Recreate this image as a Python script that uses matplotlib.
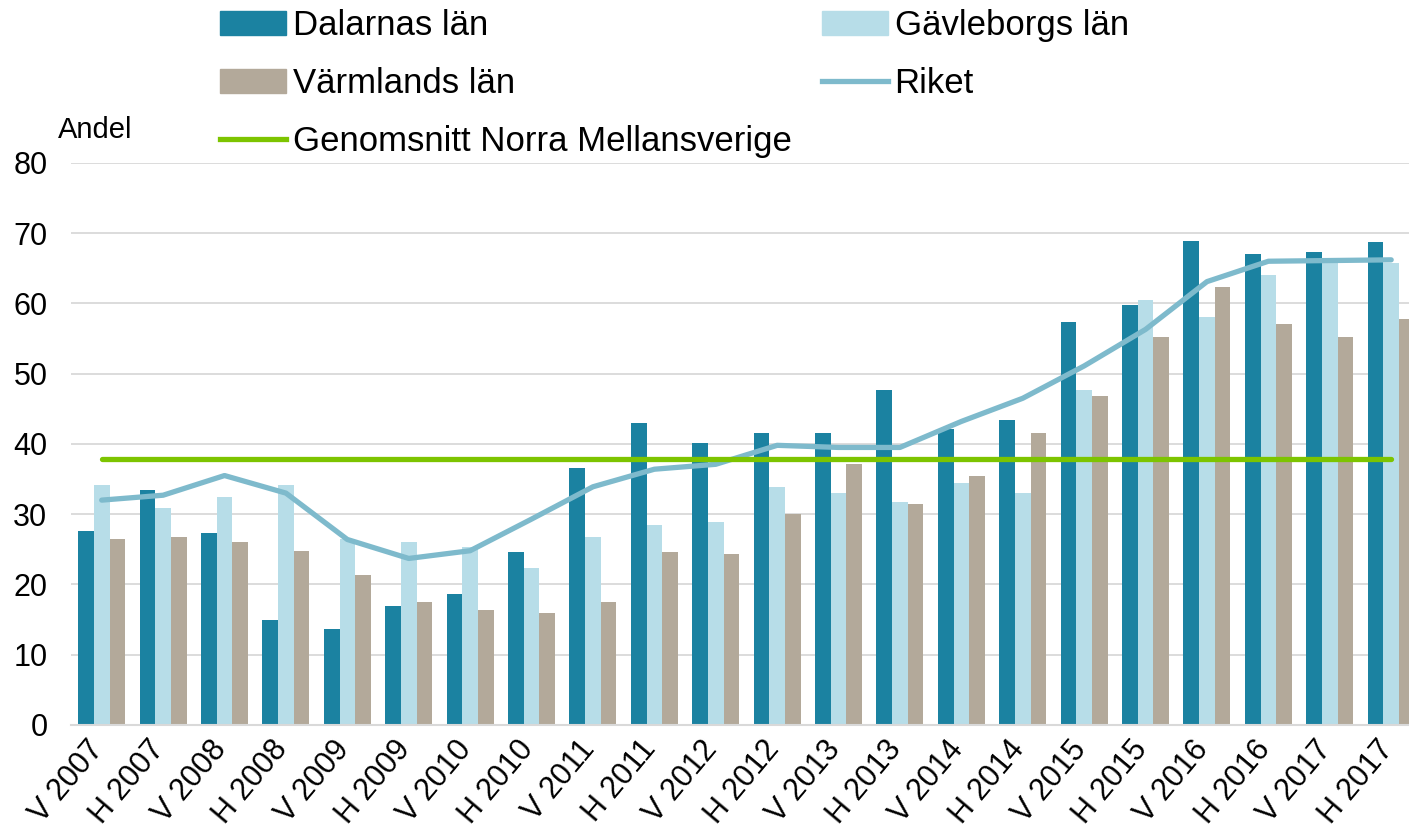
import numpy as np
import matplotlib
matplotlib.use('Agg')
import matplotlib.pyplot as plt
import matplotlib.transforms as mtransforms
from matplotlib.patches import Patch
from matplotlib.lines import Line2D

plt.rcParams['font.family'] = ['Liberation Sans', 'DejaVu Sans']

periods = ['V 2007', 'H 2007', 'V 2008', 'H 2008', 'V 2009', 'H 2009',
           'V 2010', 'H 2010', 'V 2011', 'H 2011', 'V 2012', 'H 2012',
           'V 2013', 'H 2013', 'V 2014', 'H 2014', 'V 2015', 'H 2015',
           'V 2016', 'H 2016', 'V 2017', 'H 2017']

dalarna = [27.6, 33.4, 27.3, 15.0, 13.6, 16.9, 18.7, 24.6, 36.6, 43.0, 40.2,
           41.6, 41.6, 47.7, 42.1, 43.4, 57.4, 59.8, 68.9, 67.1, 67.3, 68.7]
gavleborg = [34.1, 30.9, 32.5, 34.1, 26.4, 26.1, 25.4, 22.3, 26.8, 28.4, 28.9,
             33.8, 33.0, 31.8, 34.5, 33.0, 47.7, 60.5, 58.0, 64.1, 66.1, 65.8]
varmland = [26.4, 26.8, 26.1, 24.8, 21.4, 17.5, 16.4, 15.9, 17.5, 24.6, 24.3,
            30.0, 37.1, 31.4, 35.5, 41.6, 46.8, 55.2, 62.3, 57.1, 55.2, 57.8]
riket = [32.0, 32.7, 35.5, 33.0, 26.4, 23.7, 24.8, 29.3, 33.9, 36.4, 37.1,
         39.8, 39.5, 39.5, 43.2, 46.5, 51.1, 56.3, 63.1, 66.0, 66.1, 66.2]
genomsnitt = 37.8

c_dal = '#1B82A1'
c_gav = '#B7DDE8'
c_var = '#B3A99A'
c_rik = '#7EBACC'
c_gen = '#7DC400'

fig = plt.figure(figsize=(14.09, 8.31), dpi=100)
ax = fig.add_axes([0.0504, 0.1276, 0.9496, 0.6764])

x = np.arange(len(periods))
w = 0.255
ax.bar(x - w, dalarna, w, color=c_dal, zorder=2)
ax.bar(x, gavleborg, w, color=c_gav, zorder=2)
ax.bar(x + w, varmland, w, color=c_var, zorder=2)
ax.plot(x, riket, color=c_rik, linewidth=3.8, solid_capstyle='round', zorder=3)
ax.plot([x[0], x[-1]], [genomsnitt, genomsnitt], color=c_gen, linewidth=3.8,
        solid_capstyle='round', zorder=4)

ax.set_xlim(-0.5, 21.29)
ax.set_ylim(0, 80)
ax.set_yticks(range(0, 81, 10))
ax.yaxis.grid(True, color='#D9D9D9', linewidth=1.3)
ax.set_axisbelow(True)
for s in ['top', 'right', 'left']:
    ax.spines[s].set_visible(False)
ax.spines['bottom'].set_color('#D9D9D9')
ax.spines['bottom'].set_linewidth(1.5)
ax.tick_params(axis='y', length=0, labelsize=22, pad=17)
ax.set_xticks(x)
ax.set_xticklabels(periods, rotation=50, ha='right')
ax.tick_params(axis='x', length=0, labelsize=22, pad=7)

# nudge the rotated labels a bit to the right
shift = mtransforms.ScaledTranslation(8 / 100, 0, fig.dpi_scale_trans)
for lbl in ax.get_xticklabels():
    lbl.set_transform(lbl.get_transform() + shift)

fig.text(58 / 1409, 1 - 130 / 831, 'Andel', fontsize=21, va='center', ha='left')

handles = [Patch(color=c_dal), Patch(color=c_var),
           Line2D([], [], color=c_gen, linewidth=3.8),
           Patch(color=c_gav), Line2D([], [], color=c_rik, linewidth=3.8)]
labels = ['Dalarnas län', 'Värmlands län', 'Genomsnitt Norra Mellansverige',
          'Gävleborgs län', 'Riket']
fig.legend(handles, labels, ncol=2, loc='upper left',
           bbox_to_anchor=(220 / 1409, 1 - 9 / 831), frameon=False,
           fontsize=25, handlelength=1.9, handleheight=0.7, handletextpad=0.2,
           columnspacing=0.86, labelspacing=0.72, borderpad=0, borderaxespad=0)

fig.savefig('out.png', dpi=100)
